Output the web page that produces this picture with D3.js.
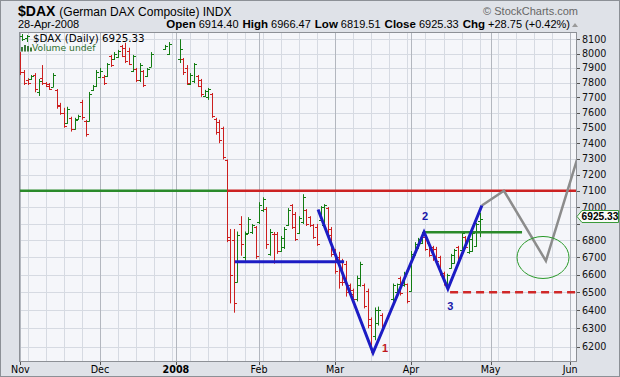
<!DOCTYPE html>
<html>
<head>
<meta charset="utf-8">
<script src="https://cdn.jsdelivr.net/npm/d3@7/dist/d3.min.js"></script>
<style>
  body { margin: 0; background: #dfe2e8; }
  svg { display: block; font-family: "Liberation Sans", Arial, sans-serif; }
</style>
</head>
<body>
<div id="viz"></div>
<script>
const width = 620;
const height = 377;

// daily bars, one per weekday from 1-Nov-2007 (null = exchange holiday)
const opens = [7990,7870,7820,7825,7850,7740,7830,7800,7790,7770,7750,7650,7600,7530,7565,7495,7555,7670,7545,7545,
  7750,7780,7840,7840,7845,7980,7960,7975,8050,8040,8020,7880,7890,7815,7880,7845,7910,null,null,null,
  8030,8000,null,null,7960,7960,7900,7790,7810,7845,7820,7710,7700,7720,7560,7540,7500,7290,6820,6800,
  6560,6900,6700,6845,6850,6880,6910,6980,6990,6720,6840,6840,6740,6760,6890,7010,6960,6845,6910,6980,
  6940,6890,6880,6920,6890,6995,6870,6740,6700,6680,6660,6540,6515,6460,6540,6540,6510,6350,6260,6330,
  6375,null,null,6460,6500,6580,6540,6545,6510,6720,6760,6785,6820,6785,6760,6750,6700,6610,6540,6640,
  6670,6760,6745,6820,6730,6740,6770,6914.40];
const highs = [8010,7886,7830,7852,7865,7825,7920,7804,7797,7865,7757,7664,7631,7638,7572,7565,7585,7684,7552,7737,
  7784,7886,7900,7852,7934,7990,8010,8025,8060,8075,8040,7990,7900,7934,7886,7900,8010,null,null,null,
  8060,8080,null,null,8100,7969,7920,7865,7934,7852,7825,7751,7764,7730,7565,7552,7507,7296,6868,6868,
  6853,6945,6853,6939,6898,6886,7030,7060,7000,6868,6850,6850,6826,6880,6994,7018,6970,6945,7079,6988,
  6945,6898,6898,7006,7018,7000,6880,6750,6733,6692,6680,6550,6521,6595,6675,6550,6521,6360,6415,6420,
  6383,null,null,6550,6550,6590,6617,6550,6738,6790,6815,6850,6826,6791,6768,6762,6710,6618,6606,6721,
  6750,6768,6853,6826,6815,6853,6905,6966.47];
const lows = [7852,7784,7784,7818,7735,7710,7784,7770,7751,7770,7625,7585,7500,7525,7475,7487,7552,7552,7442,7540,
  7744,7770,7830,7784,7838,7907,7955,7970,7975,7934,7920,7872,7804,7804,7770,7838,7907,null,null,null,
  8025,7990,null,null,7934,7852,7784,7784,7797,7770,7704,7704,7684,7565,7455,7400,7296,6790,6438,6386,
  6555,6710,6680,6838,6838,6692,6898,6970,6750,6710,6664,6721,6733,6750,6886,6868,6797,6838,6898,6886,
  6880,6809,6768,6916,6880,6820,6704,6606,6521,6537,6476,6476,6454,6449,6532,6410,6300,6167,6235,6315,
  6300,null,null,6449,6493,6482,6532,6438,6504,6710,6750,6779,6739,6704,6680,6664,6595,6538,6532,6635,
  6664,6680,6739,6750,6721,6733,6762,6819.51];
const closes = [7870,7800,7795,7845,7760,7810,7800,7775,7760,7850,7640,7600,7510,7620,7490,7550,7580,7570,7460,7720,
  7775,7870,7880,7800,7925,7920,8000,8020,7985,7950,7930,7980,7820,7920,7785,7890,8000,null,null,null,
  8055,8067,null,null,8030,7870,7800,7855,7925,7780,7720,7745,7755,7580,7470,7420,7310,6800,6600,6440,
  6830,6780,6840,6930,6890,6710,7010,7050,6780,6850,6680,6740,6815,6870,6985,6880,6810,6935,7060,6900,
  6890,6820,6780,7000,7010,6830,6720,6620,6560,6560,6500,6490,6465,6580,6660,6425,6320,6180,6400,6400,
  6315,null,null,6540,6545,6495,6610,6450,6720,6780,6810,6845,6750,6715,6700,6680,6610,6545,6600,6715,
  6745,6700,6845,6760,6810,6845,6896.58,6925.33];

const priceTicks = [6200,6300,6400,6500,6600,6700,6800,6900,7000,7100,7200,7300,7400,7500,7600,7700,7800,7900,8000,8100];
const monthLabels = ["Nov", "Dec", "2008", "Feb", "Mar", "Apr", "May", "Jun"];

// annotations: [bar index, price]
const blueZigzag = [[82.3, 6985], [97.5, 6167], [111.6, 6850], [118.2, 6520], [127.6, 7010]];
const grayProjection = [[127.6, 7010], [133.7, 7100], [145.3, 6680], [153.9, 7295]];
const waveLabels = [
  {text: "1", i: 100.8, price: 6174, color: "#c0181c"},
  {text: "2", i: 111.9, price: 6924, color: "#1818a8"},
  {text: "3", i: 118.9, price: 6403, color: "#1818a8"}
];
const neckline = {from: 59.3, to: 89.5, price: 6675};
const wave2Line = {from: 111.3, to: 138.7, price: 6848};
const resistance = {split: 57.4, price: 7100};
const support = {from: 118.8, price: 6500};
const targetZone = {i: 144.5, price: 6700};

// trading-day calendar (weekdays), used for the axis
const days = d3.timeDay.range(new Date(2007, 10, 1), new Date(2008, 5, 7))
  .filter(d => d.getDay() !== 0 && d.getDay() !== 6);

const plotL = 19, plotR = 577, plotT = 32, plotB = 362;

const x = d3.scaleLinear().domain([-0.4, 153.9]).range([plotL, plotR]);
const y = d3.scaleLog().domain([6118, 8151]).range([plotB, plotT]);

const svg = d3.select("#viz").append("svg")
    .attr("width", width)
    .attr("height", height);

svg.append("rect").attr("width", width).attr("height", height).attr("fill", "#dfe2e8");
svg.append("rect")
    .attr("x", 0.5).attr("y", 0.5).attr("width", width - 1).attr("height", height - 1)
    .attr("fill", "none").attr("stroke", "#8c9096");

// header
const head = svg.append("text").attr("x", 18).attr("y", 16).attr("fill", "#000");
head.append("tspan").attr("font-weight", "bold").attr("font-size", 14).text("$DAX");
head.append("tspan").attr("font-size", 12).attr("dx", 4).text("(German DAX Composite) INDX");

svg.append("text").attr("x", 18).attr("y", 28).attr("font-size", 11).text("28-Apr-2008");

svg.append("text").attr("x", 578).attr("y", 15).attr("text-anchor", "end")
    .attr("font-size", 11).attr("fill", "#666").text("\u00a9 StockCharts.com");

const quote = [["Open", "6914.40"], ["High", "6966.47"], ["Low", "6819.51"], ["Close", "6925.33"], ["Chg", "+28.75 (+0.42%)"]];
const qt = svg.append("text").attr("x", 570).attr("y", 28).attr("text-anchor", "end").attr("font-size", 11);
quote.forEach((q, k) => {
  qt.append("tspan").attr("font-weight", "bold").attr("font-size", 11.5).attr("dx", k ? 4 : 0).text(q[0]);
  qt.append("tspan").attr("dx", 3).text(q[1]);
});
svg.append("path").attr("d", "M572,27 L575,23 L578,27 Z").attr("fill", "#9a9a9a");

// plot area
svg.append("rect")
    .attr("x", plotL).attr("y", plotT).attr("width", plotR - plotL).attr("height", plotB - plotT)
    .attr("fill", "#f5f6fa");

svg.append("clipPath").attr("id", "clip").append("rect")
    .attr("x", plotL).attr("y", plotT).attr("width", plotR - plotL).attr("height", plotB - plotT);

const crisp = v => Math.round(v) + 0.5;

// weekly grid (mondays)
const mondays = days.map((d, i) => ({d, i})).filter(o => o.d.getDay() === 1);
svg.append("g").selectAll("line").data(mondays).join("line")
    .attr("x1", o => crisp(x(o.i))).attr("x2", o => crisp(x(o.i)))
    .attr("y1", plotT).attr("y2", plotB)
    .attr("stroke", "#d6dae2");

// horizontal grid
svg.append("g").selectAll("line").data(priceTicks).join("line")
    .attr("x1", plotL).attr("x2", plotR)
    .attr("y1", d => crisp(y(d))).attr("y2", d => crisp(y(d)))
    .attr("stroke", "#d6dae2");

// month lines
const monthStarts = days.map((d, i) => ({d, i}))
  .filter((o, k, arr) => k === 0 || o.d.getMonth() !== arr[k - 1].d.getMonth());
svg.append("g").selectAll("line").data(monthStarts).join("line")
    .attr("x1", o => crisp(x(o.i))).attr("x2", o => crisp(x(o.i)))
    .attr("y1", plotT).attr("y2", plotB)
    .attr("stroke", "#b3b7bf");

const ann = svg.append("g").attr("clip-path", "url(#clip)");

// horizontal levels
ann.append("line")
    .attr("x1", plotL).attr("x2", x(resistance.split))
    .attr("y1", y(resistance.price)).attr("y2", y(resistance.price))
    .attr("stroke", "#2a8a2a").attr("stroke-width", 2.5);
ann.append("line")
    .attr("x1", x(resistance.split)).attr("x2", plotR)
    .attr("y1", y(resistance.price)).attr("y2", y(resistance.price))
    .attr("stroke", "#cc2222").attr("stroke-width", 2.5);

// bars
const bars = d3.range(opens.length).filter(i => opens[i] !== null);
const barColor = i => closes[i] >= opens[i] ? "#137d13" : "#cc1f1f";
const bg = svg.append("g").attr("clip-path", "url(#clip)");
bg.selectAll(".hl").data(bars).join("line")
    .attr("x1", i => crisp(x(i))).attr("x2", i => crisp(x(i)))
    .attr("y1", i => y(highs[i])).attr("y2", i => y(lows[i]))
    .attr("stroke", barColor);
bg.selectAll(".op").data(bars).join("line")
    .attr("x1", i => crisp(x(i)) - 2.5).attr("x2", i => crisp(x(i)))
    .attr("y1", i => crisp(y(opens[i]))).attr("y2", i => crisp(y(opens[i])))
    .attr("stroke", barColor);
bg.selectAll(".cl").data(bars).join("line")
    .attr("x1", i => crisp(x(i))).attr("x2", i => crisp(x(i)) + 2.5)
    .attr("y1", i => crisp(y(closes[i]))).attr("y2", i => crisp(y(closes[i])))
    .attr("stroke", barColor);

const ann2 = svg.append("g").attr("clip-path", "url(#clip)");
const line = d3.line().x(d => x(d[0])).y(d => y(d[1]));

ann2.append("line")
    .attr("x1", x(neckline.from)).attr("x2", x(neckline.to))
    .attr("y1", y(neckline.price)).attr("y2", y(neckline.price))
    .attr("stroke", "#1c1cc4").attr("stroke-width", 3);
ann2.append("line")
    .attr("x1", x(wave2Line.from)).attr("x2", x(wave2Line.to))
    .attr("y1", y(wave2Line.price)).attr("y2", y(wave2Line.price))
    .attr("stroke", "#2a8a2a").attr("stroke-width", 2.5);
ann2.append("line")
    .attr("x1", x(support.from)).attr("x2", plotR)
    .attr("y1", y(support.price)).attr("y2", y(support.price))
    .attr("stroke", "#d02828").attr("stroke-width", 2.5).attr("stroke-dasharray", "8,5");

ann2.append("path").datum(grayProjection).attr("d", line)
    .attr("fill", "none").attr("stroke", "#8c8c8c").attr("stroke-width", 2.5);
ann2.append("path").datum(blueZigzag).attr("d", line)
    .attr("fill", "none").attr("stroke", "#1c1cc4").attr("stroke-width", 3).attr("stroke-linejoin", "miter");

ann2.append("ellipse")
    .attr("cx", x(targetZone.i)).attr("cy", y(targetZone.price))
    .attr("rx", 26).attr("ry", 21)
    .attr("fill", "none").attr("stroke", "#2a9a2a").attr("stroke-width", 1);

ann2.selectAll(".wl").data(waveLabels).join("text")
    .attr("x", d => x(d.i)).attr("y", d => y(d.price))
    .attr("text-anchor", "middle").attr("font-weight", "bold").attr("font-size", 11)
    .attr("fill", d => d.color).text(d => d.text);

// legend
const lg = svg.append("g");
lg.append("line").attr("x1", 22.5).attr("x2", 22.5).attr("y1", 34).attr("y2", 41).attr("stroke", "#137d13");
lg.append("line").attr("x1", 20).attr("x2", 22.5).attr("y1", 36.5).attr("y2", 36.5).attr("stroke", "#137d13");
lg.append("line").attr("x1", 22.5).attr("x2", 25).attr("y1", 39.5).attr("y2", 39.5).attr("stroke", "#137d13");
lg.append("line").attr("x1", 27.5).attr("x2", 27.5).attr("y1", 35).attr("y2", 42).attr("stroke", "#137d13");
lg.append("line").attr("x1", 25).attr("x2", 27.5).attr("y1", 38.5).attr("y2", 38.5).attr("stroke", "#137d13");
lg.append("line").attr("x1", 27.5).attr("x2", 30).attr("y1", 36.5).attr("y2", 36.5).attr("stroke", "#137d13");
lg.append("text").attr("x", 33).attr("y", 41.5).attr("font-family", "DejaVu Sans").attr("font-size", 10.3)
    .text("$DAX (Daily) 6925.33");
[[21, 47], [24, 45], [27, 46], [30, 47.5]].forEach(b => {
  lg.append("rect").attr("x", b[0]).attr("y", b[1]).attr("width", 2).attr("height", 51.5 - b[1]).attr("fill", "#3b7a3b");
});
lg.append("text").attr("x", 32).attr("y", 51).attr("font-family", "DejaVu Sans").attr("font-size", 9.2)
    .attr("fill", "#2f6f2f").text("Volume undef");

// plot border and axis ticks
svg.append("rect")
    .attr("x", plotL + 0.5).attr("y", plotT + 0.5).attr("width", plotR - plotL - 1).attr("height", plotB - plotT - 1)
    .attr("fill", "none").attr("stroke", "#8d9096");

svg.append("g").selectAll("line").data(priceTicks).join("line")
    .attr("x1", plotR).attr("x2", plotR + 3)
    .attr("y1", d => crisp(y(d))).attr("y2", d => crisp(y(d)))
    .attr("stroke", "#555");

// the 6900 label sits under the last-price flag
const lastClose = closes[closes.length - 1];
svg.append("g").selectAll("text").data(priceTicks.filter(d => Math.abs(y(d) - y(lastClose)) > 9)).join("text")
    .attr("x", 582).attr("y", d => y(d) + 3.5)
    .attr("font-family", "DejaVu Sans").attr("font-size", 9.6).attr("fill", "#111")
    .text(d => d);

svg.append("g").selectAll("line").data(monthStarts).join("line")
    .attr("x1", o => crisp(x(o.i))).attr("x2", o => crisp(x(o.i)))
    .attr("y1", plotB).attr("y2", plotB + 3)
    .attr("stroke", "#555");

svg.append("g").selectAll("text").data(monthStarts.slice(0, monthLabels.length)).join("text")
    .attr("x", o => x(o.i)).attr("y", 373)
    .attr("text-anchor", "middle").attr("font-family", "DejaVu Sans").attr("font-size", 9.6)
    .attr("font-weight", (o, k) => monthLabels[k] === "2008" ? "bold" : "normal")
    .text((o, k) => monthLabels[k]);

// last price flag
const lastY = Math.round(y(lastClose)) - 2.5;
svg.append("path")
    .attr("d", `M${plotR},${lastY} L${plotR + 5},${lastY - 6} L618.5,${lastY - 6} L618.5,${lastY + 6} L${plotR + 5},${lastY + 6} Z`)
    .attr("fill", "#fafcf8").attr("stroke", "#3a9a3a");
svg.append("text").attr("x", 600).attr("y", lastY + 3.8).attr("text-anchor", "middle")
    .attr("font-weight", "bold").attr("font-size", 10.2).text("6925.33");
</script>
</body>
</html>
